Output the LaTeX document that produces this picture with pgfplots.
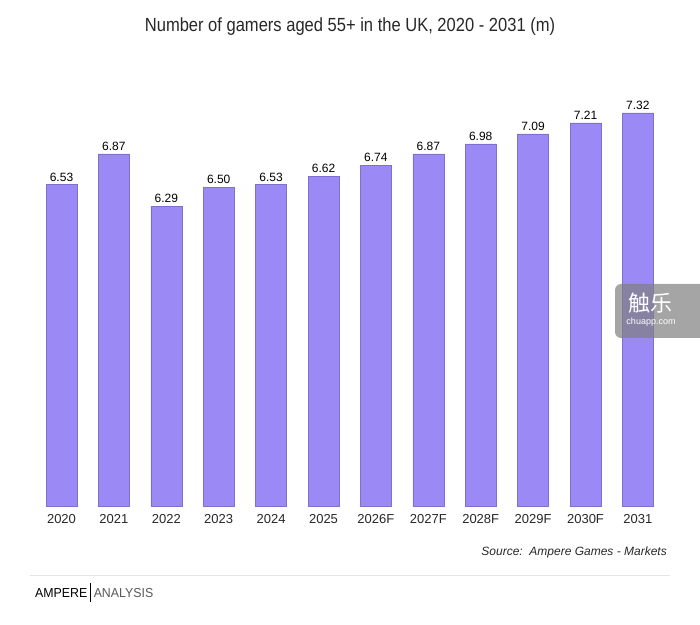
\documentclass[border=0pt]{standalone}
\usepackage{pgfplots}
\pgfplotsset{compat=1.18}
\usepackage{fontspec}
\setmainfont{Liberation Sans}
\newfontfamily\cjk{Noto Sans CJK SC}
\usepackage{graphicx}
\definecolor{barfill}{RGB}{155,137,245}
\definecolor{barline}{RGB}{128,112,205}
\definecolor{ticktext}{RGB}{40,40,40}
\begin{document}
\begin{tikzpicture}
\fill[white] (0,0) rectangle (700pt,624pt);
\begin{axis}[
  at={(35.3pt,118pt)}, anchor=south west,
  scale only axis, width=628.8pt, height=418.6pt,
  xmin=-0.5, xmax=11.5, ymin=3, ymax=7.6,
  axis line style={draw=none}, axis lines=none,
  ybar, bar width=31pt, bar shift=0pt,
  xtick=data,
  xticklabels={2020,2021,2022,2023,2024,2025,2026F,2027F,2028F,2029F,2030F,2031},
  ytick=\empty,
  enlarge x limits=false, enlarge y limits=false,
  clip=false,
  nodes near coords,
  nodes near coords style={font=\fontsize{12}{14}\selectfont, text=black, yshift=0pt,
     /pgf/number format/fixed, /pgf/number format/precision=2, /pgf/number format/fixed zerofill, /pgf/number format/assume math mode=true},
]
\addplot[fill=barfill, draw=barline, line width=0.6pt] coordinates {
 (0,6.53) (1,6.87) (2,6.29) (3,6.50) (4,6.53) (5,6.62)
 (6,6.74) (7,6.87) (8,6.98) (9,7.09) (10,7.21) (11,7.32)};
\foreach \i/\l in {0/2020,1/2021,2/2022,3/2023,4/2024,5/2025,6/2026F,7/2027F,8/2028F,9/2029F,10/2030F,11/2031}{
  \edef\tmp{\noexpand\node[anchor=north, font=\noexpand\fontsize{13}{15}\noexpand\selectfont, text=ticktext, inner sep=0pt] at (axis cs:\i,3) [yshift=-8pt] {\l};}
  \tmp
}
\end{axis}
\node[font=\fontsize{19}{21}\selectfont, text=ticktext, inner sep=0pt] at (350pt,597pt) {\scalebox{0.87}[1]{Number of gamers aged 55+ in the UK, 2020 - 2031 (m)}};
\node[anchor=east, font=\fontsize{12}{14}\selectfont\itshape, text=ticktext, inner sep=0pt] at (667pt,72pt) {Source:\ \ Ampere Games - Markets};
\draw[gray!20, line width=1pt] (30pt,49pt) -- (670pt,49pt);
\node[anchor=west, font=\fontsize{13}{15}\selectfont, text=black, inner sep=0pt] (amp) at (35pt,31pt) {\scalebox{0.95}[1]{AMPERE}};
\draw[black, line width=0.7pt] ([xshift=3pt]amp.east |- 0,22pt) -- ([xshift=3pt]amp.east |- 0,41pt);
\node[anchor=west, font=\fontsize{13}{15}\selectfont, text=black!65, inner sep=0pt] at ([xshift=6pt]amp.east) {\scalebox{0.95}[1]{ANALYSIS}};
\begin{scope}
\clip (0,0) rectangle (700pt,624pt);
\fill[gray, fill opacity=0.7, rounded corners=6pt] (615pt,286pt) rectangle (712pt,340pt);
\node[text=white, font=\cjk\fontsize{22}{24}\selectfont, inner sep=0pt] at (650pt,321pt) {触乐};
\node[text=white, font=\fontsize{9}{10}\selectfont, inner sep=0pt] at (651pt,302pt) {chuapp.com};
\end{scope}
\end{tikzpicture}
\end{document}
